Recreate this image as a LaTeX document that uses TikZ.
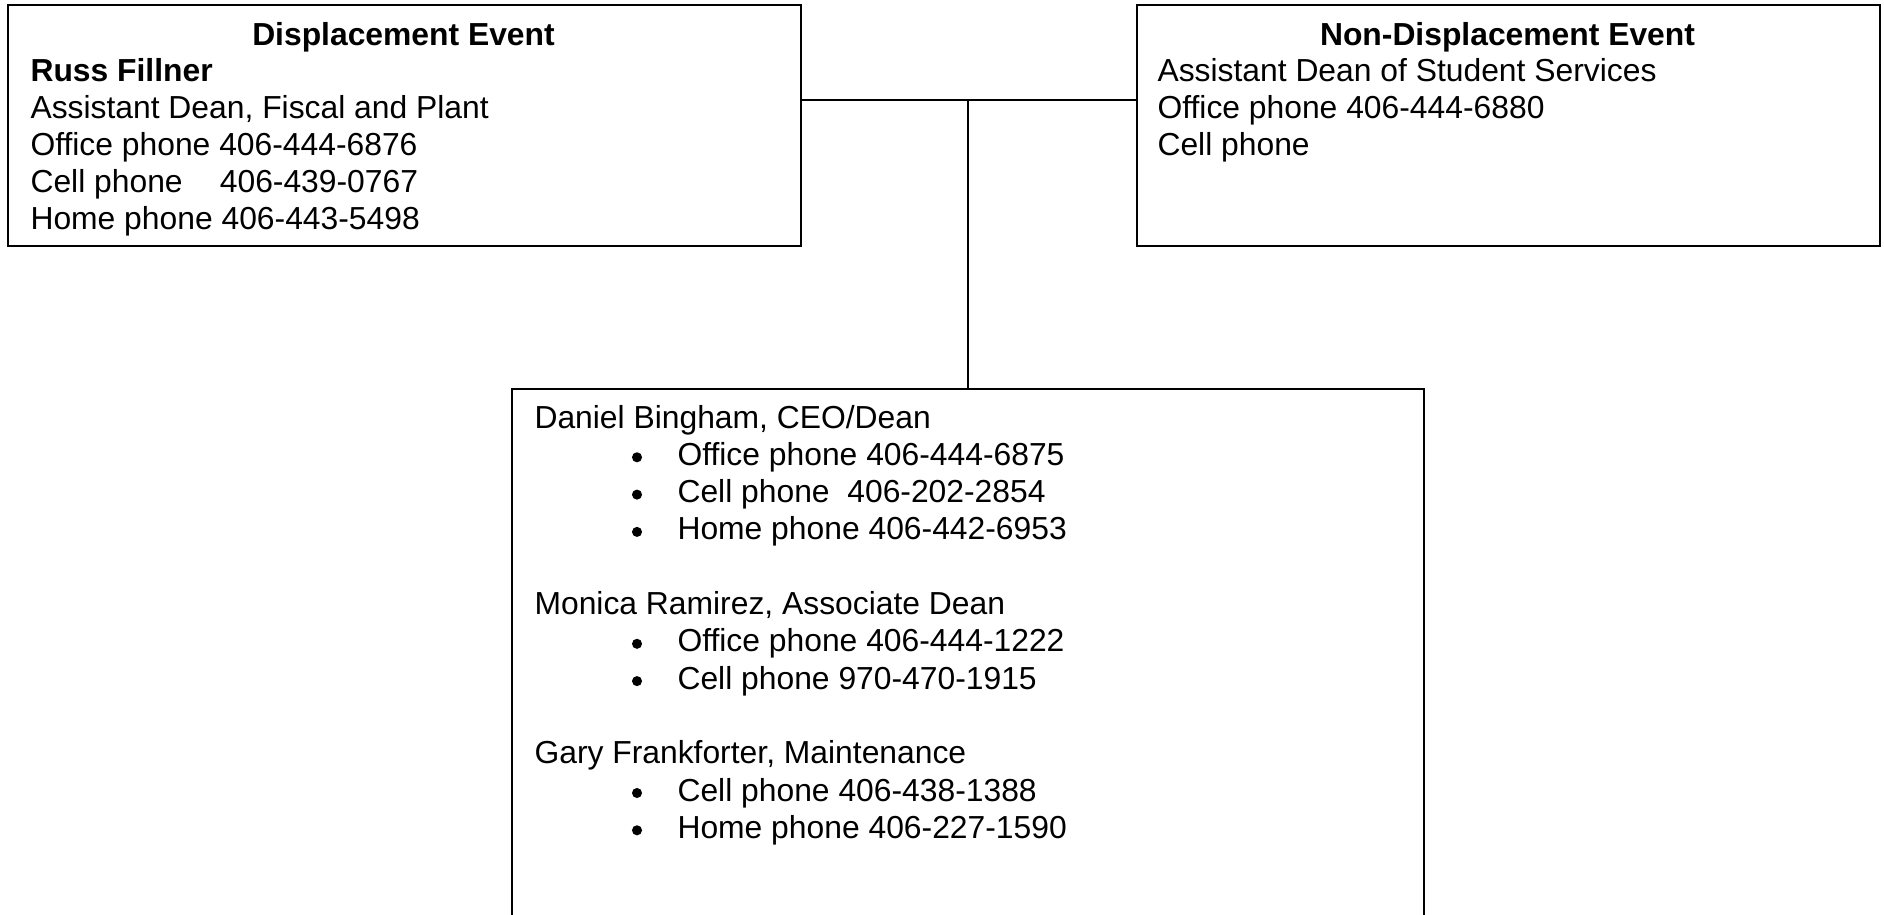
\documentclass[tikz,border=0pt]{standalone}
\usepackage{fontspec}
\setmainfont{Liberation Sans}
\newcommand{\phonetab}[1]{\makebox[5.95em][l]{#1}}

\begin{document}
\begin{tikzpicture}[x=0.377pt,y=-0.377pt,font=\fontsize{12}{14}\selectfont,
  box/.style={draw,line width=0.75pt,inner sep=0pt,anchor=north west},
  txt/.style={anchor=base west,inner sep=0pt},
  head/.style={anchor=base,inner sep=0pt,font=\fontsize{12}{14}\selectfont\bfseries}]
\useasboundingbox (0,0) rectangle (1884,914);
\clip (0,0) rectangle (1884,914);
\node[box,minimum width=299pt,minimum height=90.9pt] (dis) at (7,4) {};
\node[box,minimum width=280.1pt,minimum height=90.9pt] (nondis) at (1136,4) {};
\node[box,minimum width=343.8pt,minimum height=215pt] (deans) at (511,388) {};
\coordinate (hub) at (968,100);
\draw[line width=0.75pt] (dis.east |- hub) -- (nondis.west |- hub);
\draw[line width=0.75pt] (hub) -- (deans.north -| hub);
\node[head] (distitle) at (403.5,45) {Displacement Event};
\node[txt,font=\fontsize{12}{14}\selectfont\bfseries] (russ) at (30,81.8) {Russ Fillner};
\foreach \t [count=\i] in {{Assistant Dean, Fiscal and Plant},{Office phone 406-444-6876},{\phonetab{Cell phone}406-439-0767},{Home phone 406-443-5498}}
  \node[txt] (dis\i) at (30,81.8+36.8*\i) {\t};
\node[head] (nondistitle) at (1507.5,45) {Non-Displacement Event};
\foreach \t [count=\i] in {{Assistant Dean of Student Services},{Office phone 406-444-6880},{Cell phone}}
  \node[txt] (nondis\i) at (1157,45+36.8*\i) {\t};
\node[txt] (dean) at (534,428) {Daniel Bingham, CEO/Dean};
\foreach \t [count=\i] in {{Office phone 406-444-6875},{Cell phone\ \ 406-202-2854},{Home phone 406-442-6953}}{
  \fill (637,428+37.3*\i-8) circle (1.9pt);
  \node[txt] (dean\i) at (677,428+37.3*\i) {\t};}
\node[txt] (assoc) at (534,614.5) {Monica Ramirez, Associate Dean};
\foreach \t [count=\i] in {{Office phone 406-444-1222},{Cell phone 970-470-1915}}{
  \fill (637,614.5+37.3*\i-8) circle (1.9pt);
  \node[txt] (assoc\i) at (677,614.5+37.3*\i) {\t};}
\node[txt] (maint) at (534,763.7) {Gary Frankforter, Maintenance};
\foreach \t [count=\i] in {{Cell phone 406-438-1388},{Home phone 406-227-1590}}{
  \fill (637,763.7+37.3*\i-8) circle (1.9pt);
  \node[txt] (maint\i) at (677,763.7+37.3*\i) {\t};}
\end{tikzpicture}
\end{document}
